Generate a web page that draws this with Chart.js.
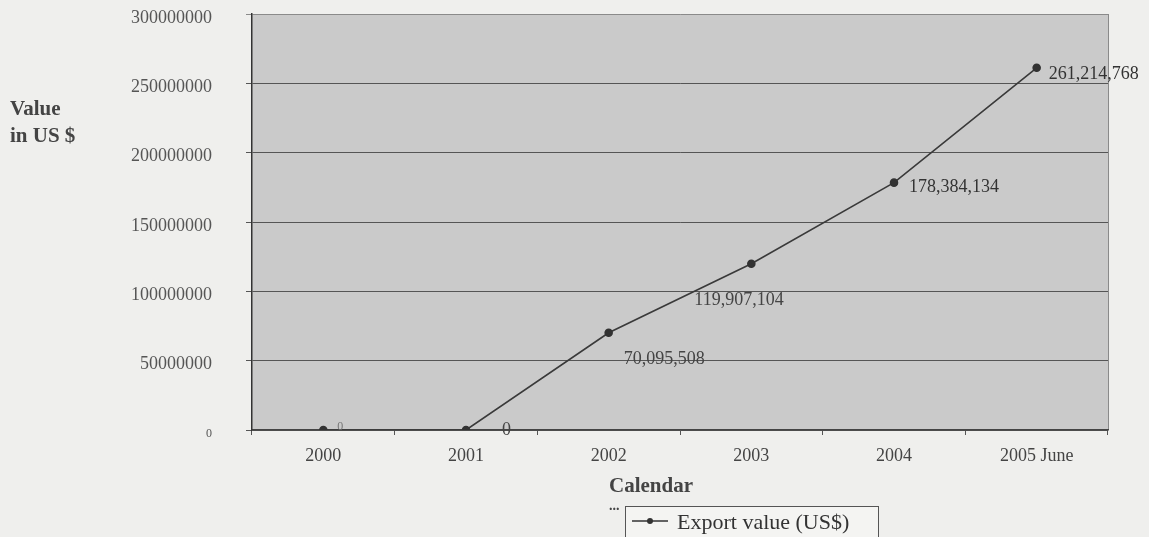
<!DOCTYPE html>
<html>
<head>
<meta charset="utf-8">
<script src="https://cdn.jsdelivr.net/npm/chart.js"></script>
<style>
  body { margin: 0; background: #efefed; }
  #wrap { width: 1149px; height: 537px; position: relative; }
</style>
</head>
<body>
<div id="wrap"><canvas id="line-chart"></canvas></div>
<script>
// data
const years = ["2000", "2001", "2002", "2003", "2004", "2005 June"];
const exportValues = [0, 0, 70095508, 119907104, 178384134, 261214768];
const yTicks = [0, 50000000, 100000000, 150000000, 200000000, 250000000, 300000000];

const serif = "'Liberation Serif', 'Times New Roman', serif";

// where each value label sits next to its point (dx, dy, font size, colour)
const labelPos = [
  [14, -3, 12, "#777"],
  [36, 0, 18, "#444"],
  [15, 26, 18, "#444"],
  [-57, 37, 18, "#444"],
  [15, 5, 18, "#333"],
  [12, 6, 18, "#333"]
];

const decor = {
  id: "decor",
  beforeDraw(chart) {
    const { ctx, chartArea: a } = chart;
    ctx.save();
    ctx.fillStyle = "#cacaca";
    ctx.fillRect(a.left, a.top, a.right - a.left, a.bottom - a.top);
    ctx.strokeStyle = "#8a8a8a";
    ctx.lineWidth = 1;
    ctx.beginPath();
    ctx.moveTo(a.right + 0.5, a.top);
    ctx.lineTo(a.right + 0.5, a.bottom);
    ctx.stroke();
    ctx.restore();
  },
  afterDatasetsDraw(chart) {
    const ctx = chart.ctx;
    const pts = chart.getDatasetMeta(0).data;
    ctx.save();
    ctx.textBaseline = "middle";
    ctx.textAlign = "left";
    pts.forEach((p, i) => {
      const [dx, dy, size, col] = labelPos[i];
      ctx.font = size + "px " + serif;
      ctx.fillStyle = col;
      ctx.fillText(exportValues[i].toLocaleString("en-US"), p.x + dx, p.y + dy);
    });

    // axis titles
    ctx.fillStyle = "#444";
    ctx.font = "bold 21px " + serif;
    ctx.fillText("Value", 10, 110);
    ctx.fillText("in US $", 10, 137);
    ctx.font = "bold 21px " + serif;
    ctx.fillText("Calendar", 609, 487);
    ctx.font = "bold 14px " + serif;
    ctx.fillText("...", 609, 506);

    // legend box
    ctx.fillStyle = "#f4f4f2";
    ctx.fillRect(625, 506, 253, 40);
    ctx.strokeStyle = "#555";
    ctx.lineWidth = 1;
    ctx.strokeRect(625.5, 506.5, 253, 40);
    ctx.strokeStyle = "#333";
    ctx.lineWidth = 1.5;
    ctx.beginPath();
    ctx.moveTo(632, 521);
    ctx.lineTo(668, 521);
    ctx.stroke();
    ctx.fillStyle = "#333";
    ctx.beginPath();
    ctx.arc(650, 521, 3, 0, Math.PI * 2);
    ctx.fill();
    ctx.font = "22px " + serif;
    ctx.fillText("Export value (US$)", 677, 523);
    ctx.restore();
  }
};

new Chart(document.getElementById("line-chart"), {
  type: "line",
  data: {
    labels: years,
    datasets: [{
      label: "Export value (US$)",
      data: exportValues,
      borderColor: "#3a3a3a",
      borderWidth: 1.6,
      pointRadius: 3.5,
      pointBackgroundColor: "#333",
      pointBorderColor: "#333",
      tension: 0
    }]
  },
  options: {
    responsive: true,
    maintainAspectRatio: false,
    animation: false,
    layout: { padding: { left: 0, top: 14, right: 41, bottom: 0 } },
    plugins: {
      legend: { display: false },
      tooltip: { enabled: false }
    },
    scales: {
      x: {
        offset: true,
        grid: {
          offset: true,
          drawOnChartArea: false,
          drawTicks: true,
          tickLength: 5,
          color: "#555"
        },
        border: { color: "#444", width: 1.5 },
        ticks: {
          color: "#444",
          padding: 10,
          maxRotation: 0,
          font: { family: serif, size: 18 }
        },
        afterFit(s) {
          s.height = 107;
          s.paddingLeft = 0;
          s.paddingRight = 0;
        }
      },
      y: {
        min: 0,
        max: 300000000,
        afterBuildTicks(s) { s.ticks = yTicks.map(v => ({ value: v })); },
        grid: {
          color: c => c.tick && c.tick.value === 300000000 ? "#8a8a8a" : "#555",
          lineWidth: 1,
          tickLength: 6
        },
        border: { color: "#333", width: 1.5 },
        ticks: {
          color: "#555",
          padding: 34,
          labelOffset: 4,
          callback: v => String(v),
          font: c => ({ family: serif, size: c.tick && c.tick.value === 0 ? 12 : 18 })
        },
        afterFit(s) {
          s.width = 252;
          s.paddingTop = 0;
          s.paddingBottom = 0;
        }
      }
    }
  },
  plugins: [decor]
});
</script>
</body>
</html>
